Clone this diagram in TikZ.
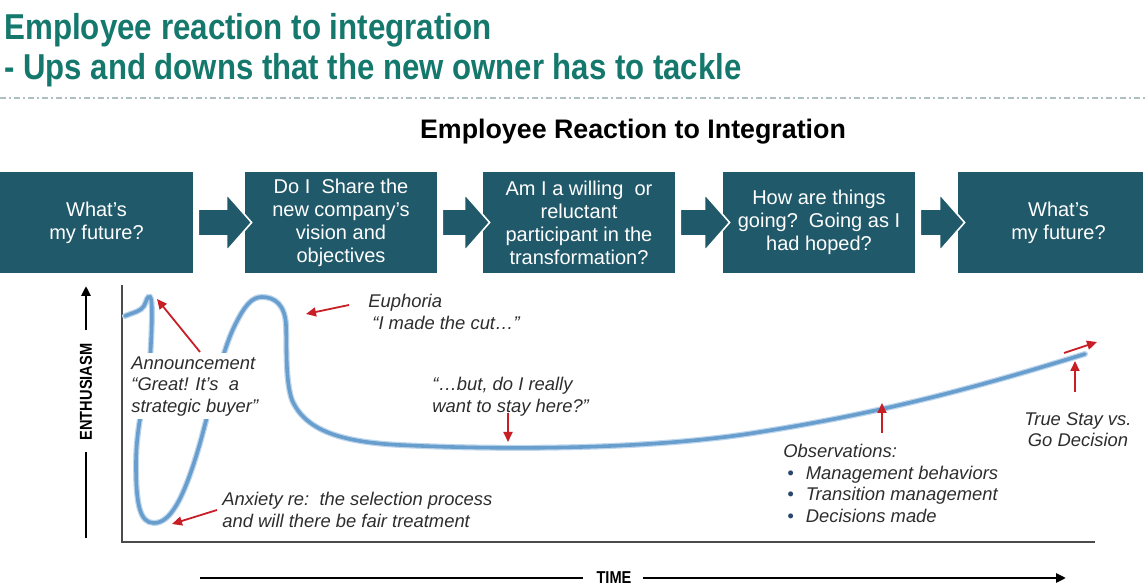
\documentclass[tikz,border=0pt]{standalone}
\usepackage{fontspec}
\setmainfont{Liberation Sans}
\usetikzlibrary{calc,arrows.meta}
\definecolor{titlec}{RGB}{20,120,108}
\definecolor{boxc}{RGB}{32,89,105}
\definecolor{curvec}{RGB}{104,158,206}
\definecolor{haloc}{RGB}{190,214,236}
\definecolor{redc}{RGB}{200,30,38}
\definecolor{annc}{RGB}{45,45,45}
\definecolor{axisc}{RGB}{75,75,75}
\definecolor{dashc}{RGB}{175,190,190}
\definecolor{bulc}{RGB}{40,70,110}
\newcommand{\chev}[2]{%
  \filldraw[boxc,draw=white,line width=0.8pt]
   ($(#1.east)+(5,-13.5)$) -- ($(#2.west)+(-18,-13.5)$) -- ($(#2.west)+(-18,-28.5)$)
   -- ($(#2.west)+(7,0)$) -- ($(#2.west)+(-18,28.5)$) -- ($(#2.west)+(-18,13.5)$)
   -- ($(#1.east)+(5,13.5)$) -- cycle;}
\begin{document}
\begin{tikzpicture}[x=0.5pt,y=-0.5pt,
  stagebox/.style={fill=boxc,text=white,minimum height=50.5pt,inner sep=0pt,align=center,font=\fontsize{10}{11.5}\selectfont},
  ann/.style={text=annc,font=\fontsize{9.2}{10.8}\selectfont\itshape,align=left,inner sep=0pt},
  redarrow/.style={draw=redc,line width=0.9pt,-{Triangle[length=5pt,width=4.5pt]}},
  blkarrow/.style={draw=black,line width=1.3pt,-{Triangle[length=5pt,width=4.5pt]}},
  blkline/.style={draw=black,line width=1.3pt},
  axislabel/.style={inner sep=0pt,font=\fontsize{8.6}{10}\selectfont\bfseries},
  titletext/.style={anchor=base west,inner sep=0pt,text=titlec,font=\fontsize{18}{20}\selectfont\bfseries}]
\useasboundingbox (0,0) rectangle (1147,587);
% titles
\node[titletext] (t1) at (4,40) {\scalebox{0.87}[1]{Employee reaction to integration}};
\node[titletext] (t2) at (4,80) {\scalebox{0.865}[1]{- Ups and downs that the new owner has to tackle}};
\coordinate (dl) at (0,98); \coordinate (dr) at (1147,98);
\draw[dashc,line width=0.8pt,dash pattern=on 3pt off 1.5pt on 1pt off 1.5pt] (dl) -- (dr);
\node[font=\fontsize{13.4}{15}\selectfont\bfseries] (sub) at (633,132) {Employee Reaction to Integration};
% stage boxes
\node[stagebox,minimum width=96.5pt] (b1) at (96.5,222.5) {What’s\\my future?};
\node[stagebox,minimum width=96pt] (b2) at (341,222.5) {Do I\ \ Share the\\new company’s\\vision and\\objectives};
\node[stagebox,minimum width=96pt] (b3) at (579,222.5) {Am I a willing\ \ or\\reluctant\\participant in the\\transformation?};
\node[stagebox,minimum width=96pt] (b4) at (819,222.5) {How are things\\going?\ \ Going as I\\had hoped?};
\node[stagebox,minimum width=92.5pt] (b5) at (1050.5,222.5) {\hspace{8pt}What’s\\\hspace{8pt}my future?};
\chev{b1}{b2}
\chev{b2}{b3}
\chev{b3}{b4}
\chev{b4}{b5}
% axes
\coordinate (ytop) at (122,285); \coordinate (orig) at (122,542); \coordinate (xend) at (1095,542);
\draw[axisc,line width=1pt] (ytop) -- (orig) -- (xend);
\node[axislabel,rotate=90] (enth) at (86,392) {\scalebox{0.85}[1]{ENTHUSIASM}};
\coordinate (eu1) at (86,330); \coordinate (eu2) at (86,286);
\coordinate (ed1) at (86,452); \coordinate (ed2) at (86,538);
\draw[blkarrow] (eu1) -- (eu2);
\draw[blkline] (ed1) -- (ed2);
\node[axislabel] (time) at (614,578) {\scalebox{0.85}[1]{TIME}};
\coordinate (tl1) at (200,578); \coordinate (tl2) at (583,578);
\coordinate (tr1) at (643,578); \coordinate (tr2) at (1066,578);
\draw[blkline] (tl1) -- (tl2);
\draw[blkarrow] (tr1) -- (tr2);
% curve
\def\curvepath{(125,316) .. controls (135,312) and (141,311) .. (144,306)
 .. controls (147,300) and (147,296) .. (150,297)
 .. controls (153,298) and (152,330) .. (150,360)
 .. controls (147,395) and (136,420) .. (136,465)
 .. controls (136,505) and (140,523) .. (154,523)
 .. controls (170,523) and (183,500) .. (198,450)
 .. controls (210,410) and (220,355) .. (235,325)
 .. controls (245,305) and (252,297) .. (262,297)
 .. controls (275,297) and (285,305) .. (286,325)
 .. controls (287,345) and (285,380) .. (292,400)
 .. controls (305,430) and (340,442) .. (400,445)
 .. controls (500,450) and (650,450) .. (760,432)
 .. controls (900,410) and (1000,380) .. (1085,354)}
\draw[haloc,line width=3pt,line cap=round] \curvepath;
\draw[curvec,line width=1.8pt,line cap=round] \curvepath;
% annotations
\node[ann,anchor=north west] (euph) at (368,294) {Euphoria\\\hspace{2pt}“I made the cut…”};
\node[ann,anchor=north west,fill=white,inner sep=1.5pt] (annt) at (128,353) {Announcement\\“Great! It’s\ \ a\\strategic buyer”};
\node[ann,anchor=north west] (but) at (432,377) {“…but, do I really\\want to stay here?”};
\node[ann,anchor=north west] (anx) at (222,492) {Anxiety re:\ \ the selection process\\and will there be fair treatment};
\node[ann,anchor=north west] (obs) at (783,444) {Observations:\\\hspace{2pt}\textcolor{bulc}{•}\hspace{6pt}Management behaviors\\\hspace{2pt}\textcolor{bulc}{•}\hspace{6pt}Transition management\\\hspace{2pt}\textcolor{bulc}{•}\hspace{6pt}Decisions made};
\node[ann,anchor=north,align=center] (stay) at (1078,412) {True Stay vs.\\Go Decision};
% red arrows
\coordinate (a1s) at (200,352); \coordinate (a1e) at (157,299);
\coordinate (a2s) at (349,305); \coordinate (a2e) at (306,314);
\coordinate (a3s) at (217,510); \coordinate (a3e) at (172,524);
\coordinate (a4s) at (508,413); \coordinate (a4e) at (508,442);
\coordinate (a5s) at (882,433); \coordinate (a5e) at (882,403);
\coordinate (a6s) at (1075,392); \coordinate (a6e) at (1075,361);
\coordinate (a7s) at (1064,353); \coordinate (a7e) at (1097,342);
\draw[redarrow] (a1s) -- (a1e);
\draw[redarrow] (a2s) -- (a2e);
\draw[redarrow] (a3s) -- (a3e);
\draw[redarrow] (a4s) -- (a4e);
\draw[redarrow] (a5s) -- (a5e);
\draw[redarrow] (a6s) -- (a6e);
\draw[redarrow] (a7s) -- (a7e);
\end{tikzpicture}
\end{document}
